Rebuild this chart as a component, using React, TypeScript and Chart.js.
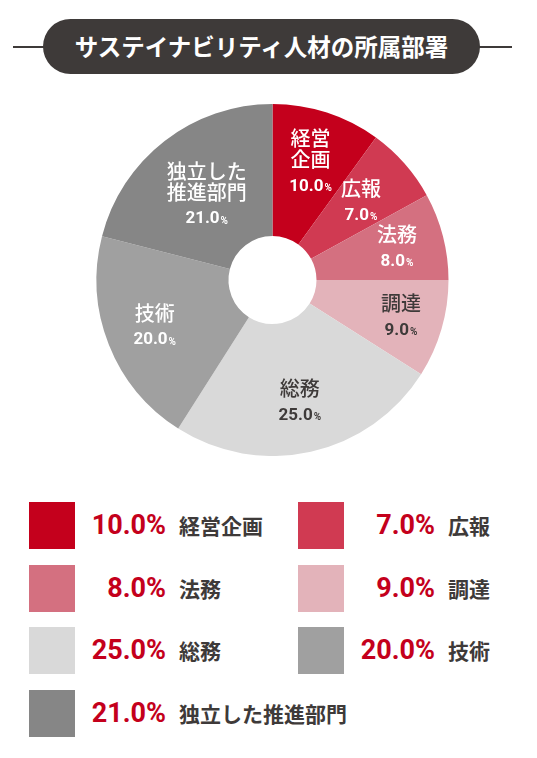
import React, { useEffect, useRef } from 'react';
import { Chart, registerables } from 'chart.js';

Chart.register(...registerables);

const title = 'サステイナビリティ人材の所属部署';
const categories = ['経営企画', '広報', '法務', '調達', '総務', '技術', '独立した推進部門'];
const pieLabels = ['経営\n企画', '広報', '法務', '調達', '総務', '技術', '独立した\n推進部門'];
const values = [10.0, 7.0, 8.0, 9.0, 25.0, 20.0, 21.0];
const colors = ['#c4001c', '#d03a52', '#d47080', '#e3b3ba', '#d9d9d9', '#a0a0a0', '#868686'];
const labelColors = ['#ffffff', '#ffffff', '#ffffff', '#3e3a39', '#3e3a39', '#ffffff', '#ffffff'];
// how far out (fraction of the outer radius) each slice label sits
const labelRadius = [0.7, 0.67, 0.73, 0.76, 0.71, 0.72, 0.61];

const DARK = '#3e3a39';
const RED = '#c4001c';
const JP = '"Noto Sans CJK JP", "Noto Sans", sans-serif';
const NUM = 'Roboto, "Noto Sans", sans-serif';

// draws the name + value inside each slice
const sliceLabels = {
  id: 'sliceLabels',
  afterDatasetsDraw(chart: any) {
    const ctx = chart.ctx;
    const meta = chart.getDatasetMeta(0);
    ctx.save();
    ctx.textBaseline = 'middle';
    meta.data.forEach((arc: any, i: number) => {
      const { x, y, startAngle, endAngle, outerRadius } = arc.getProps(
        ['x', 'y', 'startAngle', 'endAngle', 'outerRadius'],
        true
      );
      const mid = (startAngle + endAngle) / 2;
      const r = outerRadius * labelRadius[i];
      const cx = x + Math.cos(mid) * r;
      const cy = y + Math.sin(mid) * r;
      const lines = pieLabels[i].split('\n');
      const lineH = 21;
      const gap = 27;
      const span = lineH * (lines.length - 1) + gap;
      let ly = cy - span / 2;
      ctx.fillStyle = labelColors[i];
      ctx.textAlign = 'center';
      ctx.font = `500 20px ${JP}`;
      lines.forEach((ln) => {
        ctx.fillText(ln, cx, ly);
        ly += lineH;
      });
      const py = cy + span / 2;
      const num = values[i].toFixed(1);
      ctx.font = `bold 17px ${NUM}`;
      const nw = ctx.measureText(num).width;
      ctx.font = `bold 10px ${NUM}`;
      const pw = ctx.measureText('%').width + 1;
      const left = cx - (nw + pw) / 2;
      ctx.textAlign = 'left';
      ctx.font = `bold 17px ${NUM}`;
      ctx.fillText(num, left, py);
      ctx.font = `bold 10px ${NUM}`;
      ctx.fillText('%', left + nw + 1, py + 2);
    });
    ctx.restore();
  },
};

const PieChart: React.FC = () => {
  const chartRef = useRef<HTMLCanvasElement>(null);

  useEffect(() => {
    let chartInstance: Chart | undefined;
    if (chartRef.current) {
      chartInstance = new Chart(chartRef.current, {
        type: 'doughnut',
        data: {
          labels: categories,
          datasets: [
            {
              data: values,
              backgroundColor: colors,
              borderWidth: 0,
              hoverOffset: 0,
            },
          ],
        },
        options: {
          responsive: false,
          animation: false,
          cutout: '25%',
          layout: { padding: { left: 8 } },
          plugins: {
            legend: { display: false },
            tooltip: { enabled: false },
          },
        },
        plugins: [sliceLabels],
      });
    }
    return () => {
      if (chartInstance) chartInstance.destroy();
    };
  }, []);

  return (
    <canvas
      ref={chartRef}
      width={537}
      height={352}
      style={{ position: 'absolute', left: 0, top: 104, width: 537, height: 352 }}
    />
  );
};

const App: React.FC = () => {
  useEffect(() => {
    document.body.style.margin = '0';
  }, []);

  return (
    <div style={{ position: 'relative', width: 537, height: 758, background: '#fff', overflow: 'hidden' }}>
      {/* title */}
      <div style={{ position: 'absolute', left: 13, top: 46, width: 499, height: 2, background: DARK }} />
      <div
        style={{
          position: 'absolute',
          left: 43,
          top: 19,
          width: 437,
          height: 55,
          borderRadius: 28,
          background: DARK,
          color: '#fff',
          fontFamily: JP,
          fontWeight: 'bold',
          fontSize: 23.5,
          lineHeight: '55px',
          textAlign: 'center',
        }}
      >
        {title}
      </div>

      <PieChart />

      {/* legend */}
      {categories.map((name, i) => {
        const col = i % 2;
        const row = Math.floor(i / 2);
        const left = col === 0 ? 29 : 298;
        const top = 502 + row * 62.5;
        return (
          <div key={name} style={{ position: 'absolute', left, top, height: 47 }}>
            <div style={{ position: 'absolute', left: 0, top: 0, width: 46, height: 47, background: colors[i] }} />
            <div
              style={{
                position: 'absolute',
                left: 37,
                width: 100,
                top: 0,
                height: 47,
                lineHeight: '47px',
                textAlign: 'right',
                fontFamily: NUM,
                fontWeight: 'bold',
                fontSize: 27,
                color: RED,
              }}
            >
              {values[i].toFixed(1)}%
            </div>
            <div
              style={{
                position: 'absolute',
                left: 150,
                top: 0,
                height: 47,
                lineHeight: '47px',
                whiteSpace: 'nowrap',
                fontFamily: JP,
                fontWeight: 'bold',
                fontSize: 21,
                color: DARK,
              }}
            >
              {name}
            </div>
          </div>
        );
      })}
    </div>
  );
};

export default App;
